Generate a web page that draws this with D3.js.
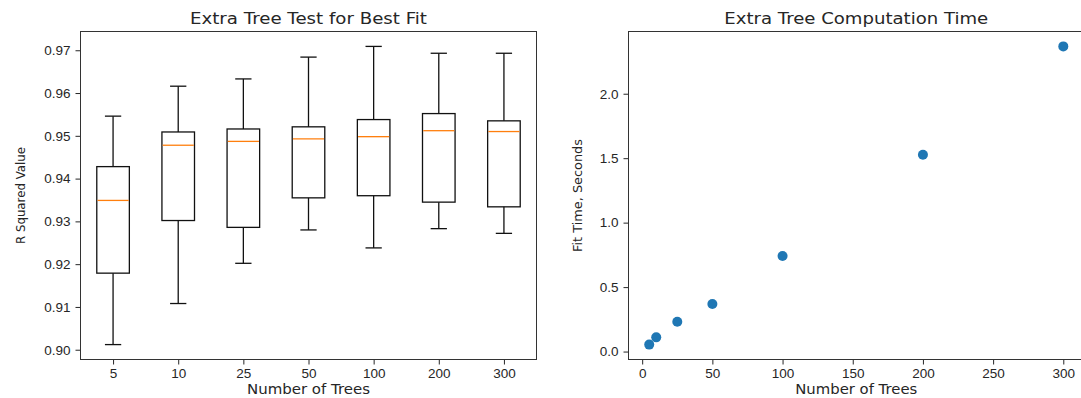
<!DOCTYPE html>
<html>
<head>
<meta charset="utf-8">
<script src="https://cdn.jsdelivr.net/npm/d3@7"></script>
<style>
  body { margin: 0; background: #fff; }
  svg { display: block; font-family: "DejaVu Sans", sans-serif; }
  .tick text { fill: #262626; font-size: 13.5px; }
  .tick line { stroke: #262626; }
</style>
</head>
<body>
<div id="chart"></div>
<script>
// box plot: R squared per forest size
const treeCounts = ["5", "10", "25", "50", "100", "200", "300"];
const whiskerLow = [0.9012, 0.9108, 0.9202, 0.9280, 0.9238, 0.9283, 0.9272];
const quart1 = [0.9179, 0.9302, 0.9286, 0.9355, 0.9360, 0.9345, 0.9334];
const medians = [0.9349, 0.9478, 0.9487, 0.9493, 0.9498, 0.9512, 0.9510];
const quart3 = [0.9428, 0.9509, 0.9516, 0.9521, 0.9538, 0.9552, 0.9535];
const whiskerHigh = [0.9546, 0.9616, 0.9633, 0.9684, 0.9709, 0.9693, 0.9693];
const rTicks = [0.90, 0.91, 0.92, 0.93, 0.94, 0.95, 0.96, 0.97];

// scatter: fit time
const fitTrees = [5, 10, 25, 50, 100, 200, 300];
const fitTimes = [0.054, 0.110, 0.231, 0.369, 0.741, 1.527, 2.367];
const timeTicks = [0.0, 0.5, 1.0, 1.5, 2.0];
const treeTicks = [0, 50, 100, 150, 200, 250, 300];

const W = 1081, H = 398;
const svg = d3.select("#chart").append("svg").attr("width", W).attr("height", H);

// matplotlib style 5% padding
function padded(lo, hi) {
  const m = (hi - lo) * 0.05;
  return [lo - m, hi + m];
}

// the picture is a bit stretched sideways, so text gets a fixed length
function label(g, txt, x, y, size, len, rot) {
  return g.append("text")
    .attr("transform", rot ? `translate(${x},${y}) rotate(-90)` : `translate(${x},${y})`)
    .attr("text-anchor", "middle").attr("font-size", size).attr("fill", "#262626")
    .attr("textLength", len).attr("lengthAdjust", "spacingAndGlyphs")
    .text(txt);
}

//// left panel ////
const L = { left: 80.5, right: 536.5, top: 31.5, bottom: 359.5 };

const xBox = d3.scalePoint().domain(treeCounts).range([L.left, L.right]).padding(0.5);
const yR = d3.scaleLinear()
  .domain(padded(d3.min(whiskerLow), d3.max(whiskerHigh)))
  .range([L.bottom, L.top]);

const left = svg.append("g");

left.append("g")
  .attr("transform", `translate(0,${L.bottom})`)
  .call(d3.axisBottom(xBox).tickSize(5).tickPadding(4))
  .call(g => g.select(".domain").remove());

left.append("g")
  .attr("transform", `translate(${L.left},0)`)
  .call(d3.axisLeft(yR).tickValues(rTicks).tickFormat(d3.format(".2f")).tickSize(5).tickPadding(5))
  .call(g => g.select(".domain").remove());

const boxW = xBox.step() * 0.5;
const capW = boxW * 0.5;

const boxes = left.selectAll(".box")
  .data(treeCounts)
  .enter()
  .append("g")
  .attr("class", "box");

// whiskers
boxes.append("line")
  .attr("x1", d => xBox(d)).attr("x2", d => xBox(d))
  .attr("y1", (d, i) => yR(quart3[i])).attr("y2", (d, i) => yR(whiskerHigh[i]))
  .attr("stroke", "#111").attr("stroke-width", 1.3);
boxes.append("line")
  .attr("x1", d => xBox(d)).attr("x2", d => xBox(d))
  .attr("y1", (d, i) => yR(quart1[i])).attr("y2", (d, i) => yR(whiskerLow[i]))
  .attr("stroke", "#111").attr("stroke-width", 1.3);
// caps
boxes.append("line")
  .attr("x1", d => xBox(d) - capW / 2).attr("x2", d => xBox(d) + capW / 2)
  .attr("y1", (d, i) => yR(whiskerHigh[i])).attr("y2", (d, i) => yR(whiskerHigh[i]))
  .attr("stroke", "#111").attr("stroke-width", 1.3);
boxes.append("line")
  .attr("x1", d => xBox(d) - capW / 2).attr("x2", d => xBox(d) + capW / 2)
  .attr("y1", (d, i) => yR(whiskerLow[i])).attr("y2", (d, i) => yR(whiskerLow[i]))
  .attr("stroke", "#111").attr("stroke-width", 1.3);
// box
boxes.append("rect")
  .attr("x", d => xBox(d) - boxW / 2)
  .attr("width", boxW)
  .attr("y", (d, i) => yR(quart3[i]))
  .attr("height", (d, i) => yR(quart1[i]) - yR(quart3[i]))
  .attr("fill", "none").attr("stroke", "#111").attr("stroke-width", 1.3);
// median
boxes.append("line")
  .attr("x1", d => xBox(d) - boxW / 2 + 0.7).attr("x2", d => xBox(d) + boxW / 2 - 0.7)
  .attr("y1", (d, i) => yR(medians[i])).attr("y2", (d, i) => yR(medians[i]))
  .attr("stroke", "#ff7f0e").attr("stroke-width", 1.3);

left.append("rect")
  .attr("x", L.left).attr("y", L.top)
  .attr("width", L.right - L.left).attr("height", L.bottom - L.top)
  .attr("fill", "none").attr("stroke", "#333").attr("stroke-width", 1);

label(left, "Extra Tree Test for Best Fit", (L.left + L.right) / 2, 23.5, 15.5, 237);
label(left, "Number of Trees", (L.left + L.right) / 2, 393.5, 13.5, 123);
label(left, "R Squared Value", 25, (L.top + L.bottom) / 2, 13, 97, true);

//// right panel ////
const R = { left: 628.5, right: 1084, top: 31.5, bottom: 359.5 };
const xT = d3.scaleLinear().domain(padded(d3.min(fitTrees), d3.max(fitTrees))).range([R.left, R.right]);
const yT = d3.scaleLinear().domain(padded(d3.min(fitTimes), d3.max(fitTimes))).range([R.bottom, R.top]);

const right = svg.append("g");

right.append("g")
  .attr("transform", `translate(0,${R.bottom})`)
  .call(d3.axisBottom(xT).tickValues(treeTicks).tickFormat(d3.format("d")).tickSize(5).tickPadding(4))
  .call(g => g.select(".domain").remove());

right.append("g")
  .attr("transform", `translate(${R.left},0)`)
  .call(d3.axisLeft(yT).tickValues(timeTicks).tickFormat(d3.format(".1f")).tickSize(5).tickPadding(5))
  .call(g => g.select(".domain").remove());

right.selectAll(".dot")
  .data(fitTrees)
  .enter()
  .append("circle")
  .attr("class", "dot")
  .attr("cx", d => xT(d))
  .attr("cy", (d, i) => yT(fitTimes[i]))
  .attr("r", 5)
  .attr("fill", "#1f77b4");

right.append("rect")
  .attr("x", R.left).attr("y", R.top)
  .attr("width", R.right - R.left).attr("height", R.bottom - R.top)
  .attr("fill", "none").attr("stroke", "#333").attr("stroke-width", 1);

label(right, "Extra Tree Computation Time", (R.left + R.right) / 2, 23.5, 15.5, 264);
label(right, "Number of Trees", (R.left + R.right) / 2, 393.5, 13.5, 122);
label(right, "Fit Time, Seconds", 582, (R.top + R.bottom) / 2, 13, 113, true);
</script>
</body>
</html>
